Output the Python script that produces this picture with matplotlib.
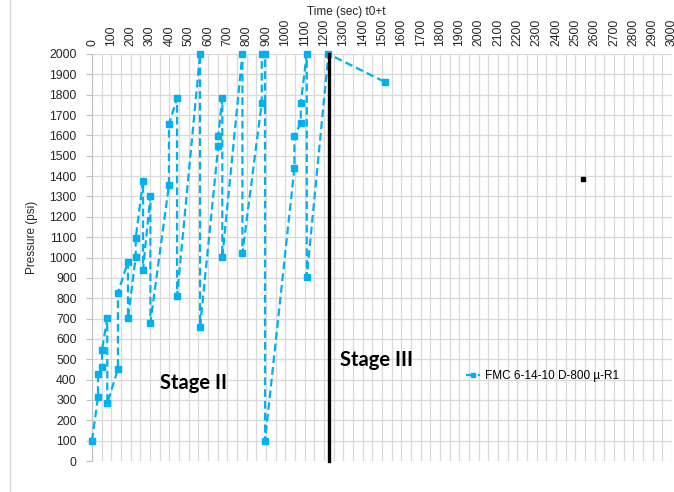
import numpy as np
import matplotlib.pyplot as plt
from matplotlib.ticker import MultipleLocator

plt.rcParams['font.family'] = ['Liberation Sans', 'DejaVu Sans']

# time (sec) and pressure (psi), in plotting order
t_sec = [0, 31, 31, 52, 52, 79, 79, 134, 134, 186, 186, 226, 226, 264, 264,
         302, 302, 398, 398, 440, 440, 559, 559, 653, 653, 674, 674, 778, 778,
         878, 878, 895, 895, 1047, 1047, 1080, 1080, 1111, 1111, 1223, 1516]
p_psi = [100, 313, 427, 460, 547, 701, 283, 451, 827, 979, 701, 1001, 1096, 1377, 941,
         1302, 680, 1356, 1656, 1782, 811, 2000, 660, 1548, 1599, 1782, 1001, 2000, 1021,
         1761, 2000, 2000, 100, 1441, 1599, 1660, 1761, 2000, 906, 2000, 1862]

stage_t = 1226          # stage II / III boundary
stray_t, stray_p = 2540, 1388

series_name = "FMC 6-14-10 D-800 \u00b5-R1"
blue = '#00B0F0'
W, H = 674, 492

fig = plt.figure(figsize=(W/100, H/100), dpi=100)
ax = fig.add_axes([92/W, 1 - 461/H, 580/W, 407/H])

ax.plot(t_sec, p_psi, ls=(0, (3.5, 1.8)), lw=1.6, color=blue, marker='s', ms=3.8,
        clip_on=False, zorder=4, label=series_name)
ax.plot([stage_t, stage_t], [0, 2000], color='black', lw=2.4, zorder=5, clip_on=False)
ax.plot([stray_t], [stray_p], marker='s', ms=2.3, color='black', ls='none', zorder=5)

ax.set_xlim(0, 3000)
ax.set_ylim(0, 2000)
ax.xaxis.set_major_locator(MultipleLocator(100))
ax.xaxis.set_minor_locator(MultipleLocator(50))
ax.yaxis.set_major_locator(MultipleLocator(100))
ax.xaxis.tick_top()
ax.grid(True, which='both', axis='x', color='#d9d9d9', lw=0.9, zorder=0)
ax.grid(True, which='major', axis='y', color='#d9d9d9', lw=0.9, zorder=0)
ax.set_axisbelow(True)
for s in ['right', 'bottom', 'top']:
    ax.spines[s].set_visible(False)
ax.spines['left'].set_color('#bfbfbf')
ax.tick_params(axis='x', which='both', length=0, labelsize=8.8, labelcolor='#262626',
               rotation=90, pad=6)
ax.tick_params(axis='y', length=4, color='#bfbfbf', labelsize=8.8, labelcolor='#262626', pad=7)

fig.text(346/W, 1 - 12/H, "Time (sec) t0+t", ha='center', va='center', fontsize=8.5, color='#262626')
fig.text(32/W, 1 - 237/H, "Pressure (psi)", rotation=90, ha='center', va='center',
         fontsize=8.5, color='#262626')

ax.text(352, 383, "Stage II", fontsize=14.5, fontweight='bold', family='Lato', va='center')
ax.text(1283, 496, "Stage III", fontsize=14.5, fontweight='bold', family='Lato', va='center')

ax.legend(loc='center left', bbox_to_anchor=(455/W, 1 - 376/H), bbox_transform=fig.transFigure,
          frameon=False, fontsize=8.5, handlelength=1.2, handletextpad=0.4, markerscale=0.9)

fig.add_artist(plt.Line2D([10/W, 10/W], [0, 1], color='#d9d9d9', lw=1, transform=fig.transFigure))

fig.savefig('out.png', dpi=100)
